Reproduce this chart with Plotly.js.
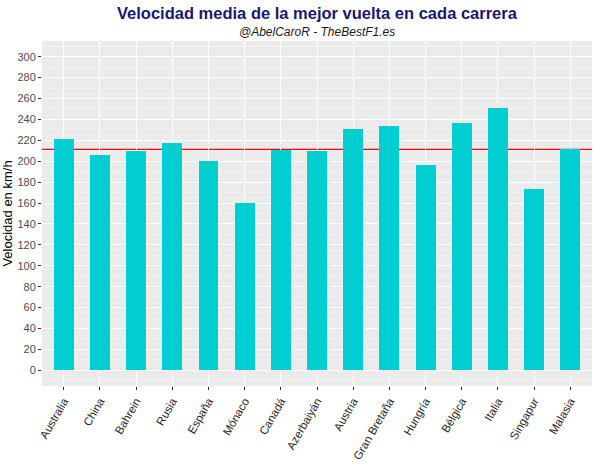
<!DOCTYPE html>
<html>
<head>
<meta charset="utf-8">
<script src="https://cdn.plot.ly/plotly-3.0.1.min.js"></script>
<style>html,body{margin:0;padding:0;background:#fff;}#chart{width:598px;height:464px;}</style>
</head>
<body>
<div id="chart"></div>
<script>
const carreras = ["Australia","China","Bahrein","Rusia","España","Mónaco","Canadá","Azerbaiyán","Austria","Gran Bretaña","Hungría","Bélgica","Italia","Singapur","Malasia"];
const velocidad = [221, 206, 210, 217, 200.6, 160.5, 210.5, 209.5, 230.5, 234, 196.8, 236.6, 250.6, 173.9, 211.5];
const yTicks = [0,20,40,60,80,100,120,140,160,180,200,220,240,260,280,300];

const media = velocidad.reduce((a,b)=>a+b,0)/velocidad.length;

const trace = {
  type: 'bar',
  x: carreras,
  y: velocidad,
  width: 0.55,
  marker: {color: '#00CED1', line: {width: 0}},
  hoverinfo: 'x+y'
};

const layout = {
  width: 598, height: 464,
  margin: {l: 42, r: 6, t: 41, b: 78},
  paper_bgcolor: '#FFFFFF',
  plot_bgcolor: '#EBEBEB',
  font: {family: 'Liberation Sans, Arial, sans-serif', color: '#4D4D4D'},
  showlegend: false,
  bargap: 0,
  xaxis: {
    type: 'category',
    categoryorder: 'array', categoryarray: carreras,
    range: [-0.6, 14.6],
    showgrid: true, gridcolor: '#FFFFFF', gridwidth: 1,
    zeroline: false, showline: false,
    ticks: 'outside', ticklen: 3, tickcolor: '#333333', tickwidth: 1,
    tickangle: -60,
    tickfont: {size: 11.5, color: '#262626', family: 'Liberation Sans, Arial, sans-serif'},
    automargin: false
  },
  yaxis: {
    range: [-15, 315],
    tickmode: 'array', tickvals: yTicks, ticktext: yTicks.map(String),
    showgrid: true, gridcolor: '#FFFFFF', gridwidth: 1,
    minor: {dtick: 10, tick0: 10, showgrid: true, gridcolor: '#F7F7F7', gridwidth: 0.5, ticks: ''},
    zeroline: false, showline: false,
    ticks: 'outside', ticklen: 3, tickcolor: '#333333', tickwidth: 1,
    tickfont: {size: 11, color: '#4D4D4D'},
    title: {text: 'Velocidad en km/h', font: {size: 13, color: '#000000'}, standoff: 4},
    automargin: false
  },
  shapes: [{
    type: 'line', xref: 'paper', x0: 0, x1: 1, yref: 'y', y0: media, y1: media,
    line: {color: '#FF0000', width: 1.3}, layer: 'below'
  }],
  annotations: [
    {text: '<b>Velocidad media de la mejor vuelta en cada carrera</b>', xref: 'paper', yref: 'paper',
     x: 0.5, y: 1, yshift: 28, xanchor: 'center', yanchor: 'middle', showarrow: false,
     font: {size: 16.5, color: '#191970', family: 'Liberation Sans, Arial, sans-serif'}},
    {text: '<i>@AbelCaroR - TheBestF1.es</i>', xref: 'paper', yref: 'paper',
     x: 0.5, y: 1, yshift: 9, xanchor: 'center', yanchor: 'middle', showarrow: false,
     font: {size: 12, color: '#1A1A1A', family: 'Liberation Sans, Arial, sans-serif'}}
  ]
};

Plotly.newPlot('chart', [trace], layout, {displayModeBar: false, staticPlot: true});
</script>
</body>
</html>
